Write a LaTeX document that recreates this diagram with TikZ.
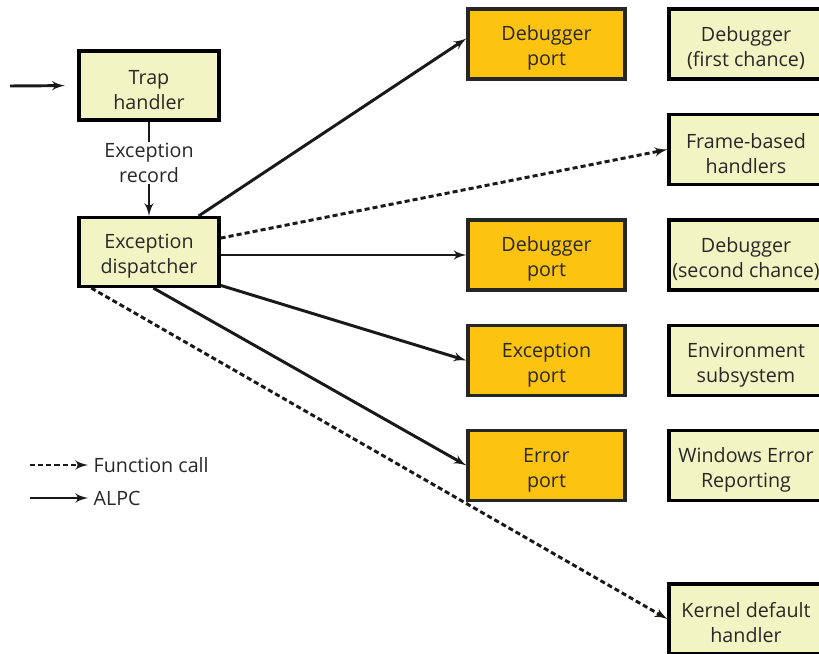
\documentclass[tikz,border=0pt]{standalone}
\usepackage{fontspec}
\setmainfont{Open Sans}
\usepackage{tikz}
\usetikzlibrary{arrows,positioning}

\definecolor{boxyellow}{RGB}{243,244,196}
\definecolor{portorange}{RGB}{253,195,17}
\definecolor{inkgray}{RGB}{40,40,40}
% lifts the first line so the text sits a little lower in its box
\newcommand{\boxstrut}{\rule{0pt}{16.3pt}}

\begin{document}
\begin{tikzpicture}[x=0.025cm,y=-0.025cm,->,>=latex',line width=2.1pt,draw=black!90,
    font=\fontsize{14}{17.7}\selectfont]
  \tikzstyle{handler}=[rectangle,draw=black,line width=2.2pt,fill=boxyellow,text=inkgray,
    align=center,minimum width=3.5cm,minimum height=1.725cm,inner sep=0pt]
  \tikzstyle{port}=[handler,draw=black!85,fill=portorange,minimum width=3.925cm,minimum height=1.75cm]
  \tikzstyle{target}=[handler,minimum width=3.85cm,minimum height=1.75cm]
  \tikzstyle{call}=[dash pattern=on 3.6pt off 2.2pt]

  \useasboundingbox (0,0) rectangle (819,653);

  % left column
  \node[handler] (trap) at (149,85.5) {\boxstrut Trap\\handler};
  \node[handler] (disp) at (149,252) {\boxstrut Exception\\dispatcher};
  \coordinate (in) at (10,86);

  % ports
  \node[port] (dbgA) at (546.5,44) {\boxstrut Debugger\\port};
  \node[port] (dbgB) at (546.5,255) {\boxstrut Debugger\\port};
  \node[port] (excp) at (546.5,360.5) {\boxstrut Exception\\port};
  \node[port] (errp) at (546.5,465.5) {\boxstrut Error\\port};

  % handlers on the right
  \node[target] (first) at (746,44) {\boxstrut Debugger\\(first chance)};
  \node[target] (frame) at (746,149.5) {\boxstrut Frame-based\\handlers};
  \node[target] (second) at (746,255) {\boxstrut Debugger\\(second chance)};
  \node[target] (env) at (746,360.5) {\boxstrut Environment\\subsystem};
  \node[target] (wer) at (746,465.5) {\boxstrut Windows Error\\Reporting};
  \node[target] (kernel) at (746,619) {\boxstrut Kernel default\\handler};

  \draw[shorten >=9pt] (in) -- (trap.west);
  \draw (trap) -- node[pos=0.44,fill=white,text=inkgray,align=center,inner sep=1pt] {Exception\\record} (disp);
  \draw (disp.36) -- (dbgA.176);
  \draw[call] (disp.11) -- (frame.west);
  \draw (disp.east |- dbgB.west) -- (dbgB.west);
  \draw (disp.-25) -- (excp.west);
  \draw (disp.-83) -- (errp.west);
  \draw[call] (disp.212) -- (kernel.west);

  % legend
  \coordinate (fcA) at (30,465);
  \coordinate (fcB) at (88,465);
  \coordinate (alA) at (30,498);
  \coordinate (alB) at (88,498);
  \draw[call] (fcA) -- (fcB) node[right,text=inkgray,inner sep=3pt] {Function call};
  \draw (alA) -- (alB) node[right,text=inkgray,inner sep=3pt] {ALPC};
\end{tikzpicture}
\end{document}
